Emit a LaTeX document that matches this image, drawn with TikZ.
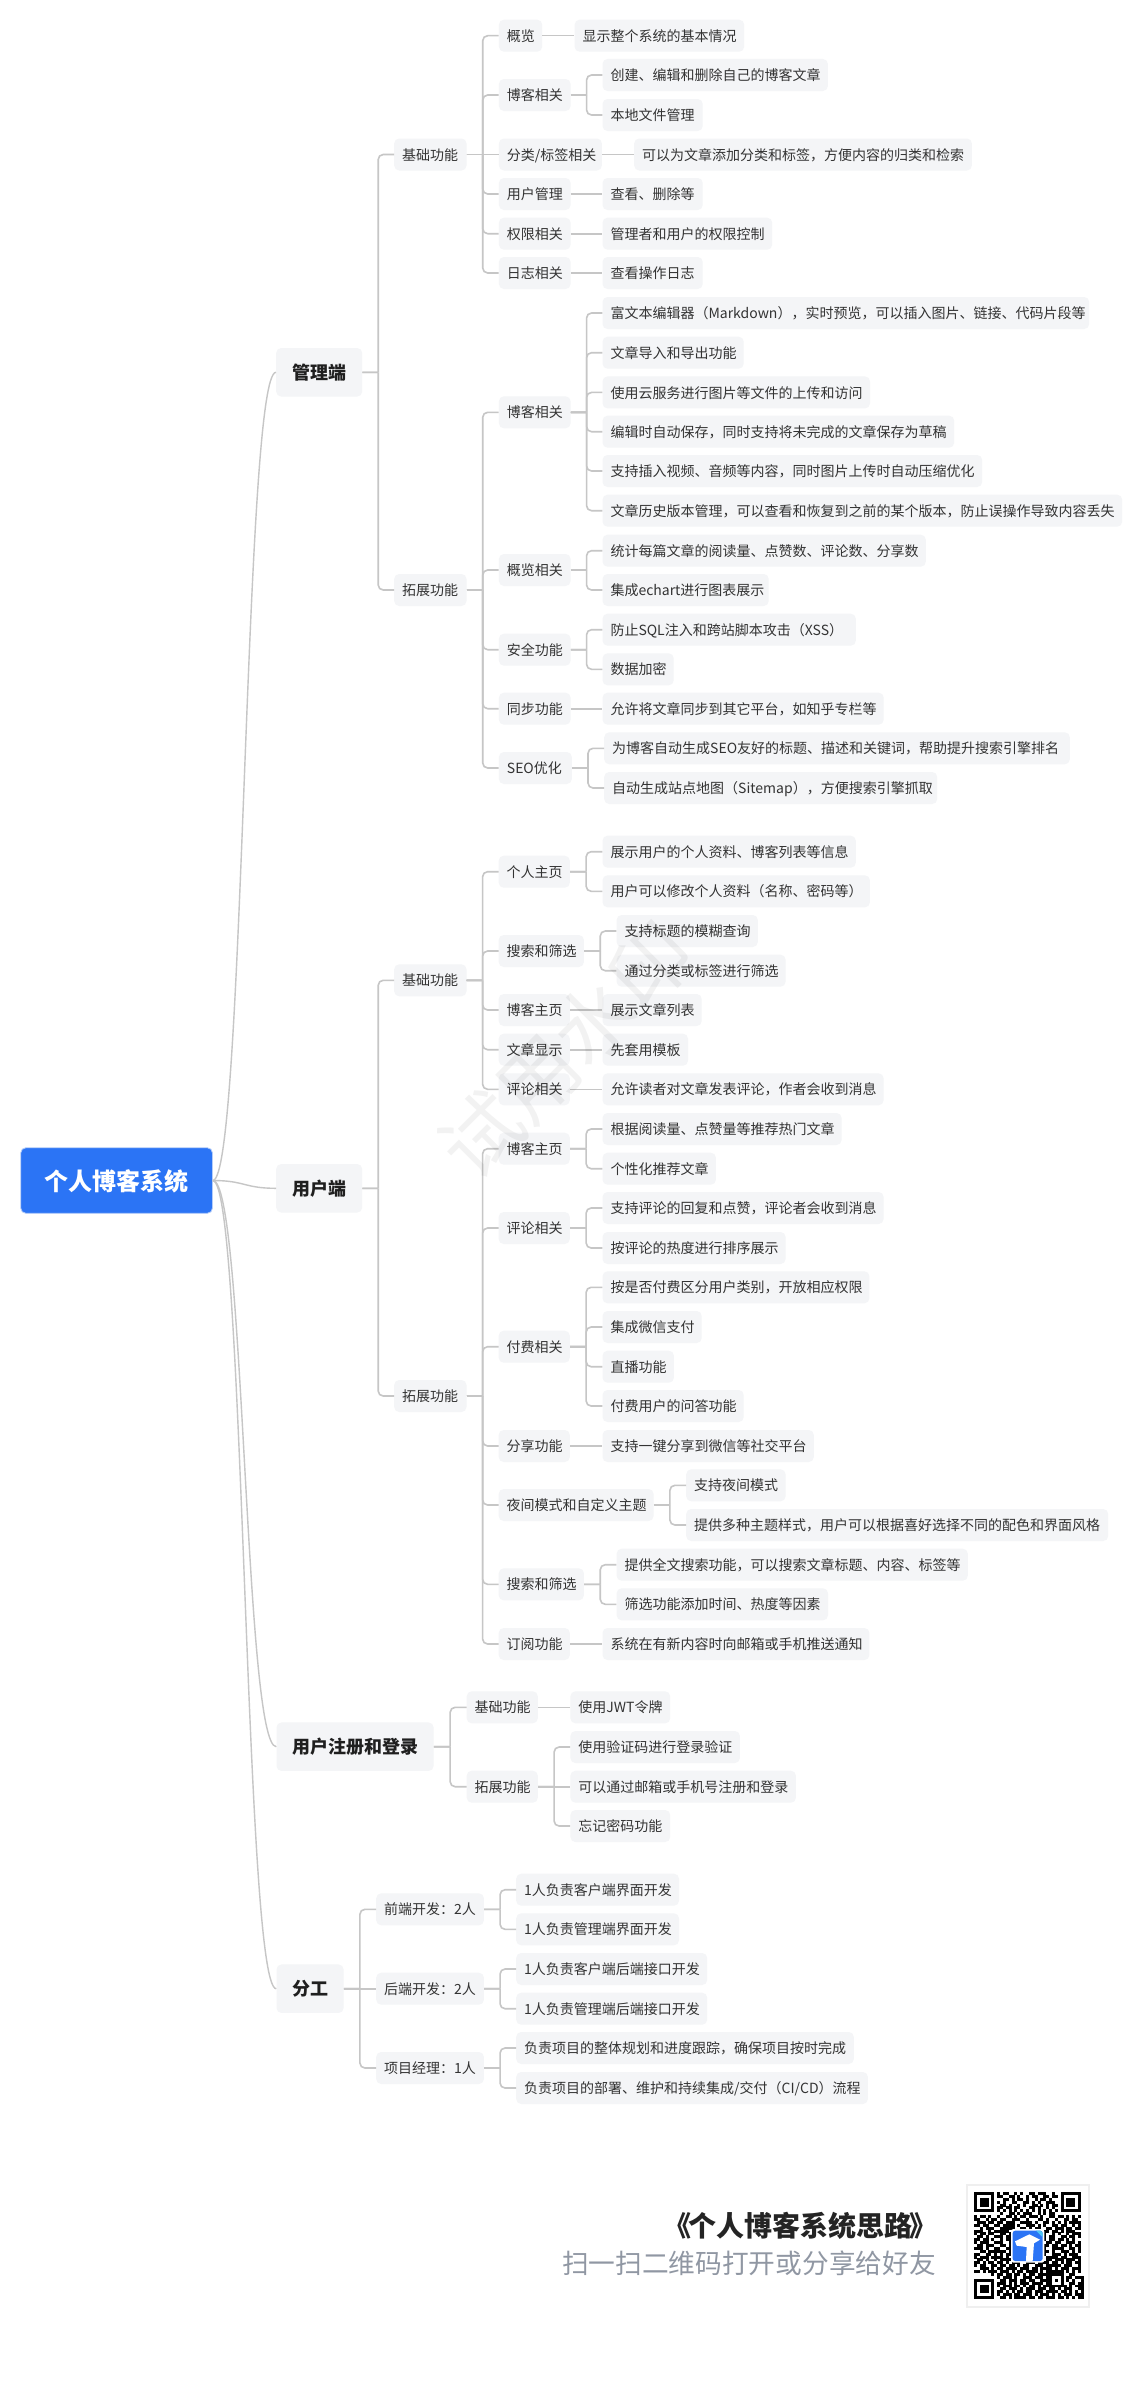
\documentclass[tikz,border=0pt]{standalone}
\usepackage{fontspec}
\usetikzlibrary{calc}
\setmainfont{Noto Sans CJK SC}
\definecolor{boxfill}{HTML}{F4F5F7}
\definecolor{txtcol}{HTML}{333333}
\definecolor{linecol}{HTML}{C6C6C6}
\definecolor{rootblue}{HTML}{2B74F5}
\definecolor{rootedge}{HTML}{B4CCF8}
\definecolor{footgray}{HTML}{9097A3}
\definecolor{qrframe}{HTML}{EFEFEF}
\tikzset{
  x=1pt,y=-1pt,
  leaf/.style={anchor=west,fill=boxfill,rounded corners=5pt,inner sep=0pt,minimum height=32pt,text=txtcol,
    font=\fontsize{14}{16}\selectfont,text height=12.7pt,text depth=1.5pt},
  topic/.style={anchor=west,fill=boxfill,rounded corners=5pt,inner sep=0pt,minimum height=48.5pt,text=black!88,
    font=\fontsize{18}{20}\selectfont\bfseries,text height=16.4pt,text depth=2pt},
  rootnode/.style={anchor=west,fill=rootblue,draw=rootedge,line width=.8pt,rounded corners=5pt,inner sep=0pt,minimum height=65.5pt,text=white,
    font=\fontsize{24}{26}\selectfont\bfseries,text height=22pt,text depth=2.8pt},
  linkline/.style={draw=linecol,line width=1.6pt},
  curveline/.style={draw=linecol,line width=1.4pt},
}
% left-aligned leaf box: name, left, y, right, text
\newcommand{\nd}[5]{\pgfmathsetmacro\ndwidth{#4-#2}\node[leaf,minimum width=\ndwidth pt] (#1) at (#2,#3) {\makebox[\ndwidth pt][l]{\hspace*{8pt}#5}};}
% centred heading box
\newcommand{\hd}[6]{\pgfmathsetmacro\ndwidth{#5-#3}\node[#1,minimum width=\ndwidth pt] (#2) at (#3,#4) {#6};}
\newcommand{\lk}[2]{\coordinate (sp) at ($(#1.east)!.5!(#1.east -| #2.west)$);
  \draw[linkline] (#1.east) -- (sp);
  \draw[linkline,rounded corners=5pt] (sp) |- (#2.west);}
\newcommand{\lks}[2]{\draw[linkline] (#1.east) -- (#1.east -| #2.west);}
\newcommand{\crv}[1]{\draw[curveline] (root.east) .. controls +(32,0) and +(-32,0) .. (#1.west);}
\newcount\qrx \newcount\qry
\def\qrscan#1{\ifx#1;\let\qrnext\relax\else\if#1x\fill (\the\qrx,\the\qry) rectangle ++(1.03,1.03);\fi\advance\qrx by 1 \let\qrnext\qrscan\fi\qrnext}
\def\qrrow#1{\qrx=0 \qrscan#1;\advance\qry by 1 }
\begin{document}
\begin{tikzpicture}
\useasboundingbox (0,0) rectangle (1142,2398);
\fill[white] (0,0) rectangle (1142,2398);
% root and main topics
\hd{rootnode}{root}{20.4}{1180.5}{212}{个人博客系统}
\hd{topic}{m0}{276}{372.3}{362}{管理端}
\hd{topic}{u0}{276}{1188.3}{362}{用户端}
\hd{topic}{r0}{276.3}{1746.7}{433.4}{用户注册和登录}
\hd{topic}{d0}{276.3}{1988.7}{343.4}{分工}
\crv{m0}\crv{u0}\crv{r0}\crv{d0}
% ---------- admin
\nd{mb}{394}{154.5}{466.3}{基础功能}
\nd{me}{394}{590}{466.3}{拓展功能}
\lk{m0}{mb}\lk{m0}{me}
\nd{a1}{498.7}{35.7}{542}{概览}
\nd{a2}{498.7}{95}{570.4}{博客相关}
\nd{a3}{498.7}{154.5}{601.7}{分类/标签相关}
\nd{a4}{498.7}{194}{570.4}{用户管理}
\nd{a5}{498.7}{233.7}{570.4}{权限相关}
\nd{a6}{498.7}{273}{570.4}{日志相关}
\lk{mb}{a1}\lk{mb}{a2}\lks{mb}{a3}\lk{mb}{a4}\lk{mb}{a5}\lk{mb}{a6}
\nd{a1a}{574.4}{35.7}{744}{显示整个系统的基本情况}
\nd{a2a}{602.3}{75}{827.7}{创建、编辑和删除自己的博客文章}
\nd{a2b}{602.3}{115}{702.5}{本地文件管理}
\nd{a3a}{634}{154.5}{971.7}{可以为文章添加分类和标签，方便内容的归类和检索}
\nd{a4a}{602.3}{194}{702.5}{查看、删除等}
\nd{a5a}{602.3}{233.7}{772}{管理者和用户的权限控制}
\nd{a6a}{602.3}{273}{702.5}{查看操作日志}
\lks{a1}{a1a}\lk{a2}{a2a}\lk{a2}{a2b}\lks{a3}{a3a}\lks{a4}{a4a}\lks{a5}{a5a}\lks{a6}{a6a}
\nd{f1}{498.7}{412.3}{570.4}{博客相关}
\nd{f2}{498.7}{570}{570.4}{概览相关}
\nd{f3}{498.7}{649.7}{570.4}{安全功能}
\nd{f4}{498.7}{708.7}{570.4}{同步功能}
\nd{f5}{498.7}{768}{571.6}{SEO优化}
\lk{me}{f1}\lk{me}{f2}\lk{me}{f3}\lk{me}{f4}\lk{me}{f5}
\nd{f1a}{602.3}{313}{1089}{富文本编辑器（Markdown），实时预览，可以插入图片、链接、代码片段等}
\nd{f1b}{602.3}{352.7}{743.5}{文章导入和导出功能}
\nd{f1c}{602.3}{392.4}{869.8}{使用云服务进行图片等文件的上传和访问}
\nd{f1d}{602.3}{431.7}{954}{编辑时自动保存，同时支持将未完成的文章保存为草稿}
\nd{f1e}{602.3}{471}{982}{支持插入视频、音频等内容，同时图片上传时自动压缩优化}
\nd{f1f}{602.3}{510.7}{1122}{文章历史版本管理，可以查看和恢复到之前的某个版本，防止误操作导致内容丢失}
\nd{f2a}{602.3}{550.7}{925.6}{统计每篇文章的阅读量、点赞数、评论数、分享数}
\nd{f2b}{602.3}{590}{768.5}{集成echart进行图表展示}
\nd{f3a}{602.3}{629.7}{855.6}{防止SQL注入和跨站脚本攻击（XSS）}
\nd{f3b}{602.3}{669.3}{673.5}{数据加密}
\nd{f4a}{602.3}{708.7}{883.5}{允许将文章同步到其它平台，如知乎专栏等}
\nd{f5a}{604}{748.3}{1069.6}{为博客自动生成SEO友好的标题、描述和关键词，帮助提升搜索引擎排名}
\nd{f5b}{604}{788}{937}{自动生成站点地图（Sitemap），方便搜索引擎抓取}
\lk{f1}{f1a}\lk{f1}{f1b}\lk{f1}{f1c}\lk{f1}{f1d}\lk{f1}{f1e}\lk{f1}{f1f}
\lk{f2}{f2a}\lk{f2}{f2b}\lk{f3}{f3a}\lk{f3}{f3b}\lks{f4}{f4a}\lk{f5}{f5a}\lk{f5}{f5b}
% ---------- user
\nd{ub}{394}{980.3}{466.3}{基础功能}
\nd{ue}{394}{1396}{466.3}{拓展功能}
\lk{u0}{ub}\lk{u0}{ue}
\nd{b1}{498.5}{871.7}{569.6}{个人主页}
\nd{b2}{498.5}{951}{583.7}{搜索和筛选}
\nd{b3}{498.5}{1010}{569.6}{博客主页}
\nd{b4}{498.5}{1049.7}{569.6}{文章显示}
\nd{b5}{498.5}{1089.3}{569.6}{评论相关}
\lk{ub}{b1}\lk{ub}{b2}\lk{ub}{b3}\lk{ub}{b4}\lk{ub}{b5}
\nd{b1a}{602.3}{851.7}{855.6}{展示用户的个人资料、博客列表等信息}
\nd{b1b}{602.3}{891.3}{869.7}{用户可以修改个人资料（名称、密码等）}
\nd{b2a}{616.4}{931}{757.6}{支持标题的模糊查询}
\nd{b2b}{616.4}{970.7}{785.4}{通过分类或标签进行筛选}
\nd{b3a}{602.3}{1010}{701.5}{展示文章列表}
\nd{b4a}{602.3}{1049.7}{687.8}{先套用模板}
\nd{b5a}{602.3}{1089.3}{883.4}{允许读者对文章发表评论，作者会收到消息}
\lk{b1}{b1a}\lk{b1}{b1b}\lk{b2}{b2a}\lk{b2}{b2b}\lks{b3}{b3a}\lks{b4}{b4a}\lks{b5}{b5a}
\nd{g1}{498.5}{1148.7}{569.6}{博客主页}
\nd{g2}{498.5}{1228}{569.6}{评论相关}
\nd{g3}{498.5}{1346.7}{569.6}{付费相关}
\nd{g4}{498.5}{1446}{569.6}{分享功能}
\nd{g5}{498.5}{1505}{653.4}{夜间模式和自定义主题}
\nd{g6}{498.5}{1584.3}{583.7}{搜索和筛选}
\nd{g7}{498.5}{1644}{569.6}{订阅功能}
\lk{ue}{g1}\lk{ue}{g2}\lk{ue}{g3}\lk{ue}{g4}\lk{ue}{g5}\lk{ue}{g6}\lk{ue}{g7}
\nd{g1a}{602.3}{1129}{841.4}{根据阅读量、点赞量等推荐热门文章}
\nd{g1b}{602.3}{1168.7}{715.7}{个性化推荐文章}
\nd{g2a}{602.3}{1208}{883.4}{支持评论的回复和点赞，评论者会收到消息}
\nd{g2b}{602.3}{1248}{785.4}{按评论的热度进行排序展示}
\nd{g3a}{602.3}{1287.3}{869.2}{按是否付费区分用户类别，开放相应权限}
\nd{g3b}{602.3}{1327}{701.5}{集成微信支付}
\nd{g3c}{602.3}{1366.7}{673.7}{直播功能}
\nd{g3d}{602.3}{1406}{743.5}{付费用户的问答功能}
\nd{g4a}{602.3}{1446}{813.6}{支持一键分享到微信等社交平台}
\nd{g5a}{686}{1485.3}{785.4}{支持夜间模式}
\nd{g5b}{686}{1525}{1108}{提供多种主题样式，用户可以根据喜好选择不同的配色和界面风格}
\nd{g6a}{616.4}{1564.7}{967.6}{提供全文搜索功能，可以搜索文章标题、内容、标签等}
\nd{g6b}{616.4}{1604.3}{827.8}{筛选功能添加时间、热度等因素}
\nd{g7a}{602.3}{1644}{869.2}{系统在有新内容时向邮箱或手机推送通知}
\lk{g1}{g1a}\lk{g1}{g1b}\lk{g2}{g2a}\lk{g2}{g2b}\lk{g3}{g3a}\lk{g3}{g3b}\lk{g3}{g3c}\lk{g3}{g3d}
\lks{g4}{g4a}\lk{g5}{g5a}\lk{g5}{g5b}\lk{g6}{g6a}\lk{g6}{g6b}\lks{g7}{g7a}
% ---------- login
\nd{rb}{466.5}{1707.3}{537.6}{基础功能}
\nd{re}{466.5}{1786.7}{537.6}{拓展功能}
\lk{r0}{rb}\lk{r0}{re}
\nd{rb1}{570.2}{1707.3}{670}{使用JWT令牌}
\nd{re1}{570.2}{1747}{739.7}{使用验证码进行登录验证}
\nd{re2}{570.2}{1786.7}{795.7}{可以通过邮箱或手机号注册和登录}
\nd{re3}{570.2}{1826}{670}{忘记密码功能}
\lks{rb}{rb1}\lk{re}{re1}\lks{re}{re2}\lk{re}{re3}
% ---------- team
\nd{t1}{376}{1909.3}{483.7}{前端开发：2人}
\nd{t2}{376}{1988.7}{483.7}{后端开发：2人}
\nd{t3}{376}{2068}{483.7}{项目经理：1人}
\lk{d0}{t1}\lks{d0}{t2}\lk{d0}{t3}
\nd{t1a}{516}{1889.7}{678.8}{1人负责客户端界面开发}
\nd{t1b}{516}{1929.3}{678.8}{1人负责管理端界面开发}
\nd{t2a}{516}{1969}{707}{1人负责客户端后端接口开发}
\nd{t2b}{516}{2008.7}{707}{1人负责管理端后端接口开发}
\nd{t3a}{516}{2048}{853.6}{负责项目的整体规划和进度跟踪，确保项目按时完成}
\nd{t3b}{516}{2088}{867.7}{负责项目的部署、维护和持续集成/交付（CI/CD）流程}
\lk{t1}{t1a}\lk{t1}{t1b}\lk{t2}{t2a}\lk{t2}{t2b}\lk{t3}{t3a}\lk{t3}{t3b}
% ---------- watermark
\node[rotate=45,opacity=.05,text=black,font=\fontsize{80}{82}\selectfont] (wm) at (566,1050) {试用水印};
% ---------- footer
\node[anchor=east,inner sep=0pt,text=black!86,font=\fontsize{28}{30}\selectfont\bfseries] (ft) at (938,2225.7) {《\kern-3pt 个人博客系统思路\kern-3pt 》};
\node[anchor=east,inner sep=0pt,text=footgray,font=\fontsize{26.7}{29}\selectfont] (fs) at (936,2263) {扫一扫二维码打开或分享给好友};
% ---------- QR
\draw[qrframe,line width=2pt,fill=white] (967,2185) rectangle (1088.7,2306.7);
\begin{scope}[shift={(974,2192)},x=2.89pt,y=-2.89pt,black]
\qry=0
\qrrow{xxxxxxx. x.xx..x.x..xx.xxx..x. .xxxxxxx}
\qrrow{x.....x. xx..xx.x..x.xx..xx.xx .x.....x}
\qrrow{x.xxx.x. ..xx.x.xx.x..x.xx.x.. .x.xxx.x}
\qrrow{x.xxx.x. x.x..xx..xx.x.x..xxx. .x.xxx.x}
\qrrow{x.xxx.x. .xx.x..x.x..xx.x.x.xx .x.xxx.x}
\qrrow{x.....x. xx.xx.xx...xx.x..x.x. .x.....x}
\qrrow{xxxxxxx. x.x.x.x.x.x.x.x.x.x.x .xxxxxxx}
\qrrow{........ .x..xx.x.xxx..x.x.xx. ........}
\qrrow{x.xx.x.. x..xx.x.xx.xxx.x..xx. xx.x.x.x}
\qrrow{xx..x.xx .xx..xxx..x...xx.x..x ..xx.xx.}
\qrrow{.xxx.xx. xx.xxx..xxxx.x..xx.x. x.x.xxxx}
\qrrow{xx.xx..x x.xxxx.x..xxx.x.x..xx .xx..x.x}
\qrrow{..x.xxx. .xxxxx..xx.x.xx..xx.x xx.xx.xx}
\qrrow{xxx..x.x xxxx.x.x.xx..x.xxx.xx .x.xxx..}
\qrrow{x.xx.xx. .xx.xx..xxxx.xx.x..x. x..x.xxx}
\qrrow{.xx.x..x xx.xxx.x.x.x.x.xx.xx. .xx.xx.x}
\qrrow{xx.xx.x. .x.xx.x.x.x.x.x.x.xx. xx.x.x..}
\qrrow{x.xxx..x xx..x.x.x.x.x.x..xx.x x..xxx.x}
\qrrow{.xx.xxx. .xx.x.x.x.x.x.x.xx.xx .xx.x.xx}
\qrrow{xxx.x..x x..xx.x.x.x.x.x.x..xx xx..xx.x}
\qrrow{..xx.xxx xxx.x.x.x.x.x.x.xx.x. .xxx.x.x}
\qrrow{xx..xx.x .x.xx.x.x.x.x.xxx..xx x.x.xxx.}
\qrrow{x.xxx.xx xx.x..xxx.xx..xx.xxxx .xx..xxx}
\qrrow{.xx.x..x .xxxx.xx.xx.xxx..xx.x xx.xxx.x}
\qrrow{xx.x.xx. xx.x.xxx..xxx.xxxx.xx .x.xx.xx}
\qrrow{x.xx..xx .xx.xx.x.xx..xxx.xxxx x.xxx..x}
\qrrow{..xxx.x. xx.xxxx.xxx.xx.xxxx.x .xxx.xxx}
\qrrow{xx.x.xxx .xxx.x.xx.xxxx.x.xxxx xx.x.x.x}
\qrrow{......x. xx.xx.xx.x.xx.xxxxxxx xx..xx..}
\qrrow{........ x.xxx.x..xxx.xxx.xx...x.xx.xxx}
\qrrow{xxxxxxx. .xx.xxx.xx.xx..xxxx.x.x.x.x..x}
\qrrow{x.....x. xxx.x.x.xxx.xxxx.xx...x..xx.xx}
\qrrow{x.xxx.x. x.xxx.xx.x.xx.x.xxxxxxxx.x.xxx}
\qrrow{x.xxx.x. .xx.xxx.x.xxx.xxx.xx.x.xxx..xx}
\qrrow{x.xxx.x. xx.x.x.xx.xx.xxx.xxxx.xx.x.x.x}
\qrrow{x.....x. x.xxx.xx.xxx.x.xxx.x.x.xxx.xxx}
\qrrow{xxxxxxx. .xx.x.xxxx.xx.xx.xxx.xx.x.x.xx}
\end{scope}
% logo on the QR
\begin{scope}[shift={(960,2180)},x=.3333pt,y=-.3333pt]
\fill[white,rounded corners=2.5pt] (153,147) rectangle (253,248);
\fill[rootblue,rounded corners=2.5pt] (158,152) rectangle (248,243);
\fill[cyan!70!white] (228,152) -- (242,152) -- (248,158) -- (248,172) -- cycle;
\fill[white] (208,163) -- (240,179) -- (222,190) -- (218,243) -- (198,243) -- (200,201) -- (170,197) -- (165,184) -- cycle;
\end{scope}
\end{tikzpicture}
\end{document}
